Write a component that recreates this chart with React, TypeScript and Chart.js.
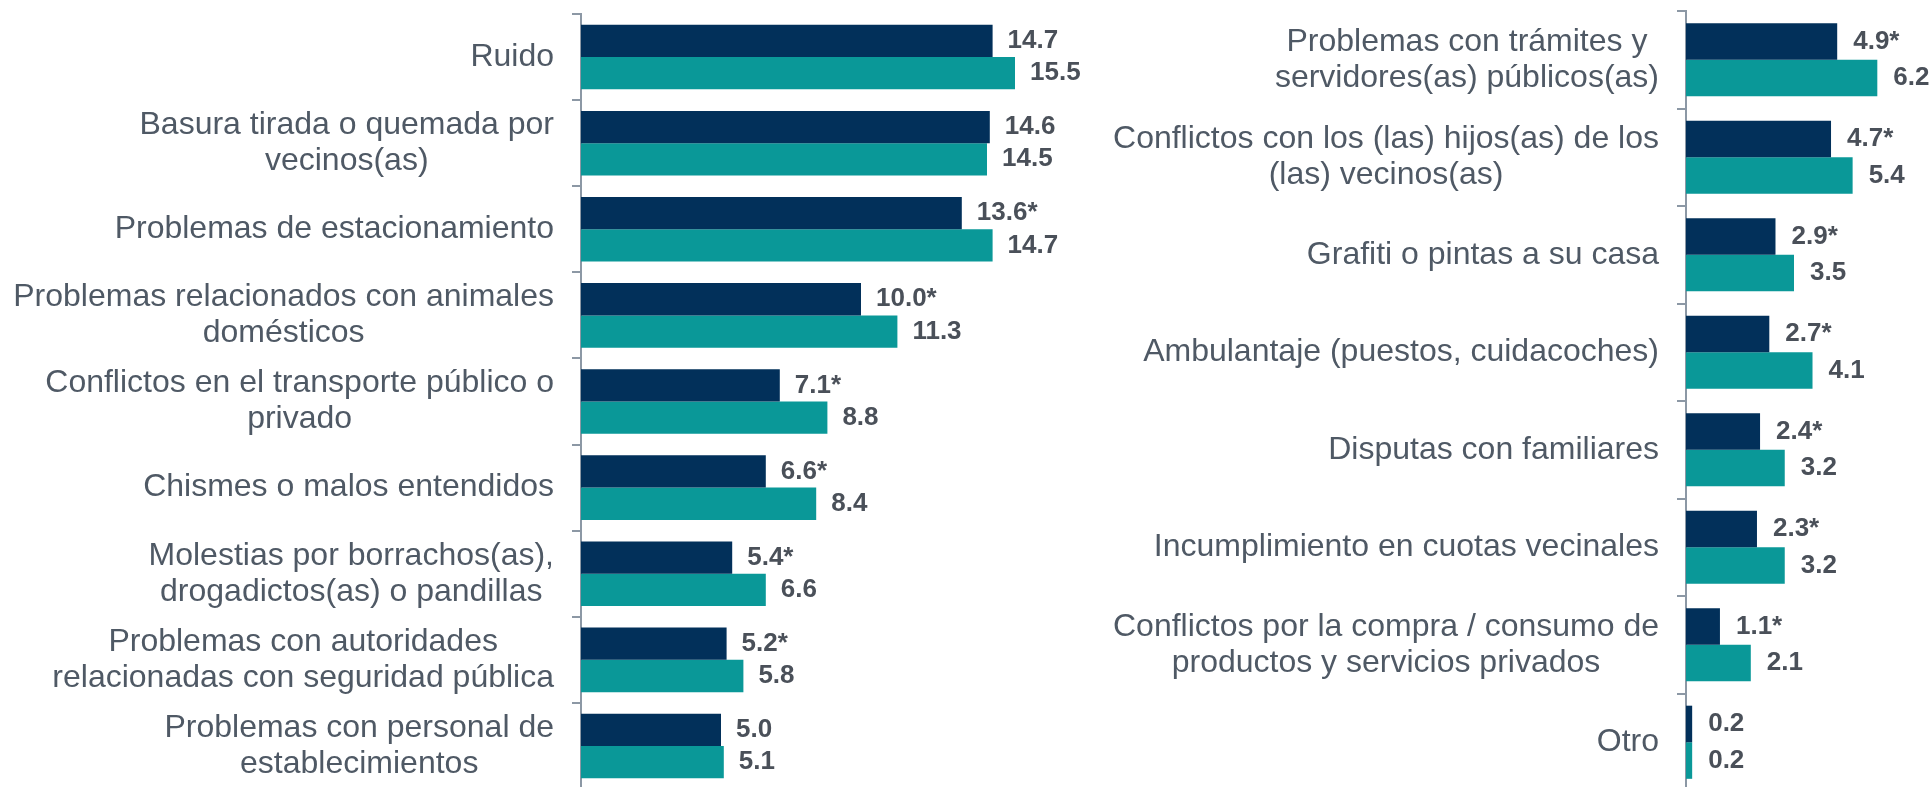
import React, { useEffect, useRef } from "react";
import { Chart, registerables } from "chart.js";

Chart.register(...registerables);

// ---------- data ----------
const seriesNames = ["Periodo actual", "Periodo anterior"];

const leftCategories: (string | string[])[] = [
  "Ruido",
  ["Basura tirada o quemada por", "vecinos(as)"],
  "Problemas de estacionamiento",
  ["Problemas relacionados con animales", "domésticos"],
  ["Conflictos en el transporte público o", "privado"],
  "Chismes o malos entendidos",
  ["Molestias por borrachos(as),", "drogadictos(as) o pandillas"],
  ["Problemas con autoridades", "relacionadas con seguridad pública"],
  ["Problemas con personal de", "establecimientos"],
];
const leftCurrent = [14.7, 14.6, 13.6, 10.0, 7.1, 6.6, 5.4, 5.2, 5.0];
const leftCurrentSig = [false, false, true, true, true, true, true, true, false];
const leftPrevious = [15.5, 14.5, 14.7, 11.3, 8.8, 8.4, 6.6, 5.8, 5.1];
const leftPreviousSig = [false, false, false, false, false, false, false, false, false];

const rightCategories: (string | string[])[] = [
  ["Problemas con trámites y", "servidores(as) públicos(as)"],
  ["Conflictos con los (las) hijos(as) de los", "(las) vecinos(as)"],
  "Grafiti o pintas a su casa",
  "Ambulantaje (puestos, cuidacoches)",
  "Disputas con familiares",
  "Incumplimiento en cuotas vecinales",
  ["Conflictos por la compra / consumo de", "productos y servicios privados"],
  "Otro",
];
const rightCurrent = [4.9, 4.7, 2.9, 2.7, 2.4, 2.3, 1.1, 0.2];
const rightCurrentSig = [true, true, true, true, true, true, true, false];
const rightPrevious = [6.2, 5.4, 3.5, 4.1, 3.2, 3.2, 2.1, 0.2];
const rightPreviousSig = [false, false, false, false, false, false, false, false];

// ---------- styles ----------
const FONT = '"Liberation Sans", Arial, Helvetica, sans-serif';
const DARK = "#02305A";
const TEAL = "#0A9898";
const AXIS = "#8C98A5";
const CAT_COLOR = "#4F5965";
const VAL_COLOR = "#4A5059";

const labelPlugin = {
  id: "customLabels",
  afterDatasetsDraw(chart: any, _args: any, opts: any) {
    const ctx = chart.ctx as CanvasRenderingContext2D;
    const yScale = chart.scales.y;
    ctx.save();
    // category labels: block right aligned, lines centered within block
    ctx.font = `32px ${FONT}`;
    ctx.fillStyle = CAT_COLOR;
    ctx.textAlign = "center";
    ctx.textBaseline = "middle";
    const lineH = 36;
    (chart.data.labels as (string | string[])[]).forEach((lab, i) => {
      const lines = Array.isArray(lab) ? lab : [lab];
      const w = Math.max(...lines.map((l) => ctx.measureText(l).width));
      const cx = yScale.right - opts.labelGap - w / 2;
      const cy = yScale.getPixelForValue(i);
      lines.forEach((l, k) => {
        ctx.fillText(l, cx, cy + (k - (lines.length - 1) / 2) * lineH);
      });
    });
    // value labels
    ctx.font = `bold 26px ${FONT}`;
    ctx.fillStyle = VAL_COLOR;
    ctx.textAlign = "left";
    chart.data.datasets.forEach((ds: any, di: number) => {
      const meta = chart.getDatasetMeta(di);
      const sig: boolean[] = opts.sig[di] || [];
      meta.data.forEach((el: any, j: number) => {
        const v = ds.data[j] as number;
        ctx.fillText(v.toFixed(1) + (sig[j] ? "*" : ""), el.x + opts.valueGap, el.y);
      });
    });
    ctx.restore();
  },
};

type PanelProps = {
  left: number;
  width: number;
  height: number;
  categories: (string | string[])[];
  current: number[];
  currentSig: boolean[];
  previous: number[];
  previousSig: boolean[];
  max: number;
  yWidth: number;
  padTop: number;
  padBottom: number;
  padRight: number;
  valueGap: number;
};

function BarPanel(p: PanelProps) {
  const ref = useRef<HTMLCanvasElement>(null);
  useEffect(() => {
    const chart = new Chart(ref.current as HTMLCanvasElement, {
      type: "bar",
      data: {
        labels: p.categories as any,
        datasets: [
          {
            label: seriesNames[0],
            data: p.current,
            backgroundColor: DARK,
            borderWidth: 0,
            categoryPercentage: 0.75,
            barPercentage: 1,
          },
          {
            label: seriesNames[1],
            data: p.previous,
            backgroundColor: TEAL,
            borderWidth: 0,
            categoryPercentage: 0.75,
            barPercentage: 1,
          },
        ],
      },
      options: {
        indexAxis: "y",
        responsive: false,
        animation: false,
        devicePixelRatio: 1,
        layout: {
          padding: { top: p.padTop, bottom: p.padBottom, left: 0, right: p.padRight },
        },
        plugins: {
          legend: { display: false },
          tooltip: { enabled: false },
          customLabels: {
            labelGap: 27,
            valueGap: p.valueGap,
            sig: [p.currentSig, p.previousSig],
          },
        } as any,
        scales: {
          x: { display: false, min: 0, max: p.max },
          y: {
            type: "category",
            position: "left",
            offset: true,
            grid: {
              display: true,
              offset: true,
              drawOnChartArea: false,
              drawTicks: true,
              tickLength: 9,
              color: AXIS,
              lineWidth: 2,
            },
            border: { display: true, color: AXIS, width: 2 },
            ticks: { display: false },
            afterFit: (scale: any) => {
              scale.width = p.yWidth;
            },
          },
        },
      },
      plugins: [labelPlugin as any],
    });
    return () => chart.destroy();
  }, []);
  return (
    <canvas
      ref={ref}
      width={p.width}
      height={p.height}
      style={{ position: "absolute", left: p.left, top: 0, width: p.width, height: p.height }}
    />
  );
}

export default function App() {
  return (
    <div
      style={{
        position: "absolute",
        left: 0,
        top: 0,
        width: 1931,
        height: 787,
        overflow: "hidden",
        background: "#ffffff",
      }}
    >
      <BarPanel
        left={0}
        width={1100}
        height={800}
        categories={leftCategories}
        current={leftCurrent}
        currentSig={leftCurrentSig}
        previous={leftPrevious}
        previousSig={leftPreviousSig}
        max={18}
        yWidth={581}
        padTop={14}
        padBottom={11}
        padRight={15}
        valueGap={15}
      />
      <BarPanel
        left={1100}
        width={831}
        height={800}
        categories={rightCategories}
        current={rightCurrent}
        currentSig={rightCurrentSig}
        previous={rightPrevious}
        previousSig={rightPreviousSig}
        max={7}
        yWidth={586}
        padTop={11}
        padBottom={9}
        padRight={29}
        valueGap={16}
      />
    </div>
  );
}
